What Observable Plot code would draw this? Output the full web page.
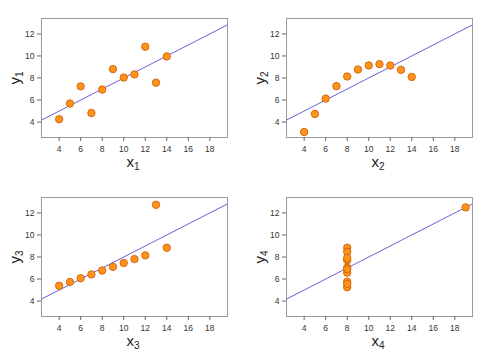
<!DOCTYPE html>
<html>
<head>
<meta charset="utf-8">
<script src="https://cdn.jsdelivr.net/npm/d3@7"></script>
<script src="https://cdn.jsdelivr.net/npm/@observablehq/plot@0.6"></script>
<style>
  body { margin: 0; background: #fff; width: 490px; height: 357px; position: relative; overflow: hidden; font-family: "Liberation Sans", Arial, sans-serif; }
  .panel { position: absolute; width: 245px; height: 178px; }
  .xlab { position: absolute; font-size: 15px; color: #222; transform: translateX(-50%); }
  .ylab { position: absolute; font-size: 15px; color: #222; transform: translate(-50%, -50%) rotate(-90deg); }
  sub { font-size: 10px; vertical-align: -3px; line-height: 0; }
</style>
</head>
<body>
<script>
const x123 = [10, 8, 13, 9, 11, 14, 6, 4, 12, 7, 5];
const y1 = [8.04, 6.95, 7.58, 8.81, 8.33, 9.96, 7.24, 4.26, 10.84, 4.82, 5.68];
const y2 = [9.14, 8.14, 8.74, 8.77, 9.26, 8.10, 6.13, 3.10, 9.13, 7.26, 4.74];
const y3 = [7.46, 6.77, 12.74, 7.11, 7.81, 8.84, 6.08, 5.39, 8.15, 6.42, 5.73];
const x4 = [8, 8, 8, 8, 8, 8, 8, 19, 8, 8, 8];
const y4 = [6.58, 5.76, 7.71, 8.84, 8.47, 7.04, 5.25, 12.50, 5.56, 7.91, 6.89];
const xTicks = [4, 6, 8, 10, 12, 14, 16, 18];
const yTicks = [4, 6, 8, 10, 12];
const panelNames = ["1", "2", "3", "4"];

const sets = [
  {xs: x123, ys: y1},
  {xs: x123, ys: y2},
  {xs: x123, ys: y3},
  {xs: x4, ys: y4}
];

const xDomain = [2.36, 19.64];
const yDomain = [2.6, 13.4];
const positions = [[0, 0], [245, 0], [0, 179], [245, 179]];

sets.forEach((s, i) => {
  const data = s.xs.map((x, j) => ({x, y: s.ys[j]}));
  const mx = d3.mean(s.xs), my = d3.mean(s.ys);
  const b = d3.sum(data, d => (d.x - mx) * (d.y - my)) / d3.sum(data, d => (d.x - mx) ** 2);
  const a = my - b * mx;
  const lineData = xDomain.map(x => ({x, y: a + b * x}));

  const chart = Plot.plot({
    width: 245,
    height: 178,
    marginLeft: 41,
    marginRight: 18,
    marginTop: 18,
    marginBottom: 41,
    style: {fontFamily: "'Liberation Sans', Arial, sans-serif", fontSize: "8.5px", color: "#333", background: "transparent"},
    x: {domain: xDomain},
    y: {domain: yDomain},
    marks: [
      Plot.frame({stroke: "#9a9a9a", strokeWidth: 1}),
      Plot.axisX({ticks: xTicks, tickSize: 4, tickPadding: 4, label: null, stroke: "#666"}),
      Plot.axisY({ticks: yTicks, tickSize: 4, tickPadding: 3, label: null, stroke: "#666"}),
      Plot.line(lineData, {x: "x", y: "y", stroke: "#6f5fd6", strokeWidth: 1, clip: true}),
      Plot.dot(data, {x: "x", y: "y", r: 3.7, fill: "#ff9418", stroke: "#d0600c", strokeWidth: 0.9})
    ]
  });
  const div = document.createElement("div");
  div.className = "panel";
  div.style.left = positions[i][0] + "px";
  div.style.top = positions[i][1] + "px";
  div.appendChild(chart);
  document.body.appendChild(div);

  const xl = document.createElement("div");
  xl.className = "xlab";
  xl.innerHTML = "x<sub>" + panelNames[i] + "</sub>";
  xl.style.left = (positions[i][0] + 133) + "px";
  xl.style.top = (positions[i][1] + 153) + "px";
  document.body.appendChild(xl);

  const yl = document.createElement("div");
  yl.className = "ylab";
  yl.innerHTML = "y<sub>" + panelNames[i] + "</sub>";
  yl.style.left = (positions[i][0] + 14) + "px";
  yl.style.top = (positions[i][1] + 78) + "px";
  document.body.appendChild(yl);
});
</script>
</body>
</html>
